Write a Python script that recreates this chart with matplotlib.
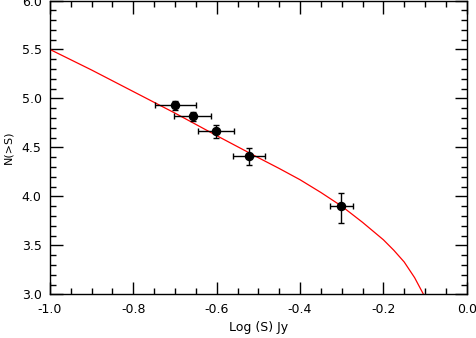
import matplotlib
matplotlib.use("Agg")
import matplotlib.pyplot as plt
from matplotlib.ticker import MultipleLocator, FormatStrFormatter

# Model curve
curve_x = [-1.0, -0.9, -0.8, -0.7, -0.6, -0.5, -0.45, -0.4, -0.35, -0.3,
           -0.25, -0.2, -0.175, -0.15, -0.125, -0.1]
curve_y = [5.50, 5.29, 5.07, 4.85, 4.62, 4.395, 4.285, 4.17, 4.04, 3.90,
           3.735, 3.557, 3.45, 3.33, 3.17, 2.97]

# Data points
pt_x = [-0.699, -0.658, -0.602, -0.522, -0.301]
pt_y = [4.93, 4.816, 4.663, 4.408, 3.90]
pt_xerr = [0.049, 0.045, 0.0425, 0.038, 0.028]
pt_yerr_lo = [0.046, 0.05, 0.063, 0.087, 0.176]
pt_yerr_hi = [0.046, 0.05, 0.063, 0.087, 0.13]

fig = plt.figure(figsize=(4.77, 3.38), dpi=100)
ax = fig.add_axes([0.1048, 0.1293, 0.8736, 0.8692])

ax.plot(curve_x, curve_y, color="red", lw=0.9, zorder=2)
ax.errorbar(pt_x, pt_y, xerr=pt_xerr, yerr=[pt_yerr_lo, pt_yerr_hi],
            fmt="o", color="black", ms=5.8, elinewidth=1.0, capsize=2.2,
            capthick=1.0, zorder=3)

ax.set_xlim(-1.0, 0.0)
ax.set_ylim(3.0, 6.0)
ax.xaxis.set_major_locator(MultipleLocator(0.2))
ax.xaxis.set_minor_locator(MultipleLocator(0.05))
ax.yaxis.set_major_locator(MultipleLocator(0.5))
ax.yaxis.set_minor_locator(MultipleLocator(0.1))
ax.tick_params(which="both", direction="in", top=True, right=True,
               width=1, labelsize=9, colors="black")
ax.tick_params(which="major", length=9, pad=6)
ax.tick_params(which="minor", length=4.5)
ax.xaxis.set_major_formatter(FormatStrFormatter("%.1f"))
ax.yaxis.set_major_formatter(FormatStrFormatter("%.1f"))
for s in ax.spines.values():
    s.set_linewidth(1)

ax.set_xlabel("Log (S) Jy", fontsize=9, labelpad=4)
ax.set_ylabel("N(>S)", fontsize=8, labelpad=6)

fig.savefig("out.png", dpi=100)
